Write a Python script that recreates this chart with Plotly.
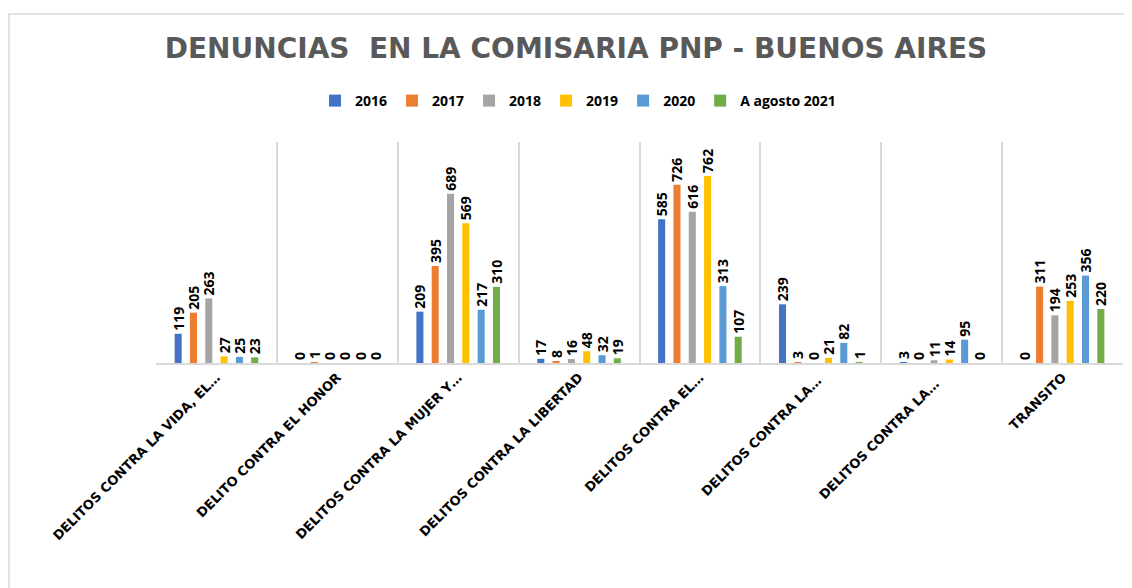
import plotly.graph_objects as go

categories = [
    "DELITOS CONTRA LA VIDA, EL…",
    "DELITO CONTRA EL HONOR",
    "DELITOS CONTRA LA MUJER Y…",
    "DELITOS CONTRA LA LIBERTAD",
    "DELITOS CONTRA EL…",
    "DELITOS CONTRA LA… ",
    "DELITOS CONTRA LA…  ",
    "TRANSITO",
]
series_names = ["2016", "2017", "2018", "2019", "2020", "A agosto 2021"]
v2016 = [119, 0, 209, 17, 585, 239, 3, 0]
v2017 = [205, 1, 395, 8, 726, 3, 0, 311]
v2018 = [263, 0, 689, 16, 616, 0, 11, 194]
v2019 = [27, 0, 569, 48, 762, 21, 14, 253]
v2020 = [25, 0, 217, 32, 313, 82, 95, 356]
v2021 = [23, 0, 310, 19, 107, 1, 0, 220]
values = [v2016, v2017, v2018, v2019, v2020, v2021]
colors = ["#4472C4", "#ED7D31", "#A5A5A5", "#FFC000", "#5B9BD5", "#70AD47"]

FONT = "Open Sans"

fig = go.Figure()
for name, vals, col in zip(series_names, values, colors):
    fig.add_trace(go.Bar(
        x=categories, y=vals, name=name,
        marker=dict(color=col, line=dict(width=0)),
        text=[str(v) for v in vals],
        textposition="outside",
        textangle=-90,
        constraintext="none",
        cliponaxis=False,
        textfont=dict(family=FONT, size=14, color="#000000", weight="bold"),
    ))

# page is offset by 8px body margin
OFF = 8
W, H = 1132 - OFF, 588 - OFF
L = 156 - OFF
T = 142 - OFF
R = W - (1123 - OFF)
B = H - (363 - OFF)
pw = W - L - R
ph = H - T - B

def px_x(p):
    return (p - OFF - L) / pw

def px_y(p):
    return (H - B - (p - OFF)) / ph

fig.update_layout(
    width=W, height=H,
    margin=dict(l=L, r=R, t=T, b=B, autoexpand=False),
    paper_bgcolor="white", plot_bgcolor="white",
    barmode="group", bargap=0.24, bargroupgap=0.54,
    title=dict(
        text="DENUNCIAS  EN LA COMISARIA PNP - BUENOS AIRES",
        x=(576 - OFF) / W, xref="container", xanchor="center",
        y=1 - (48 - OFF) / H, yref="container", yanchor="middle",
        font=dict(family="DejaVu Sans", size=28, color="#595959", weight="bold"),
    ),
    legend=dict(
        orientation="h", x=px_x(578), xanchor="center",
        y=px_y(101), yanchor="middle",
        font=dict(family=FONT, size=14, color="#000000", weight="bold"),
        itemwidth=30, traceorder="normal", bgcolor="rgba(0,0,0,0)",
    ),
    xaxis=dict(
        type="category", tickson="boundaries", showgrid=True,
        gridcolor="#D9D9D9", gridwidth=1.5, ticks="",
        showline=True, linecolor="#D9D9D9", linewidth=1.5,
        tickangle=-45,
        tickfont=dict(family="DejaVu Sans", size=13, color="#000000", weight="bold"),
        fixedrange=True,
    ),
    yaxis=dict(range=[0, 900], showgrid=False, showticklabels=False,
               zeroline=False, showline=False, fixedrange=True),
    showlegend=True,
    shapes=[dict(
        type="rect", xref="paper", yref="paper",
        x0=px_x(9), x1=px_x(1145), y0=px_y(600), y1=px_y(14),
        line=dict(color="#D9D9D9", width=1.5), fillcolor="rgba(0,0,0,0)",
        layer="below",
    )],
)

fig.write_html("out.html")
